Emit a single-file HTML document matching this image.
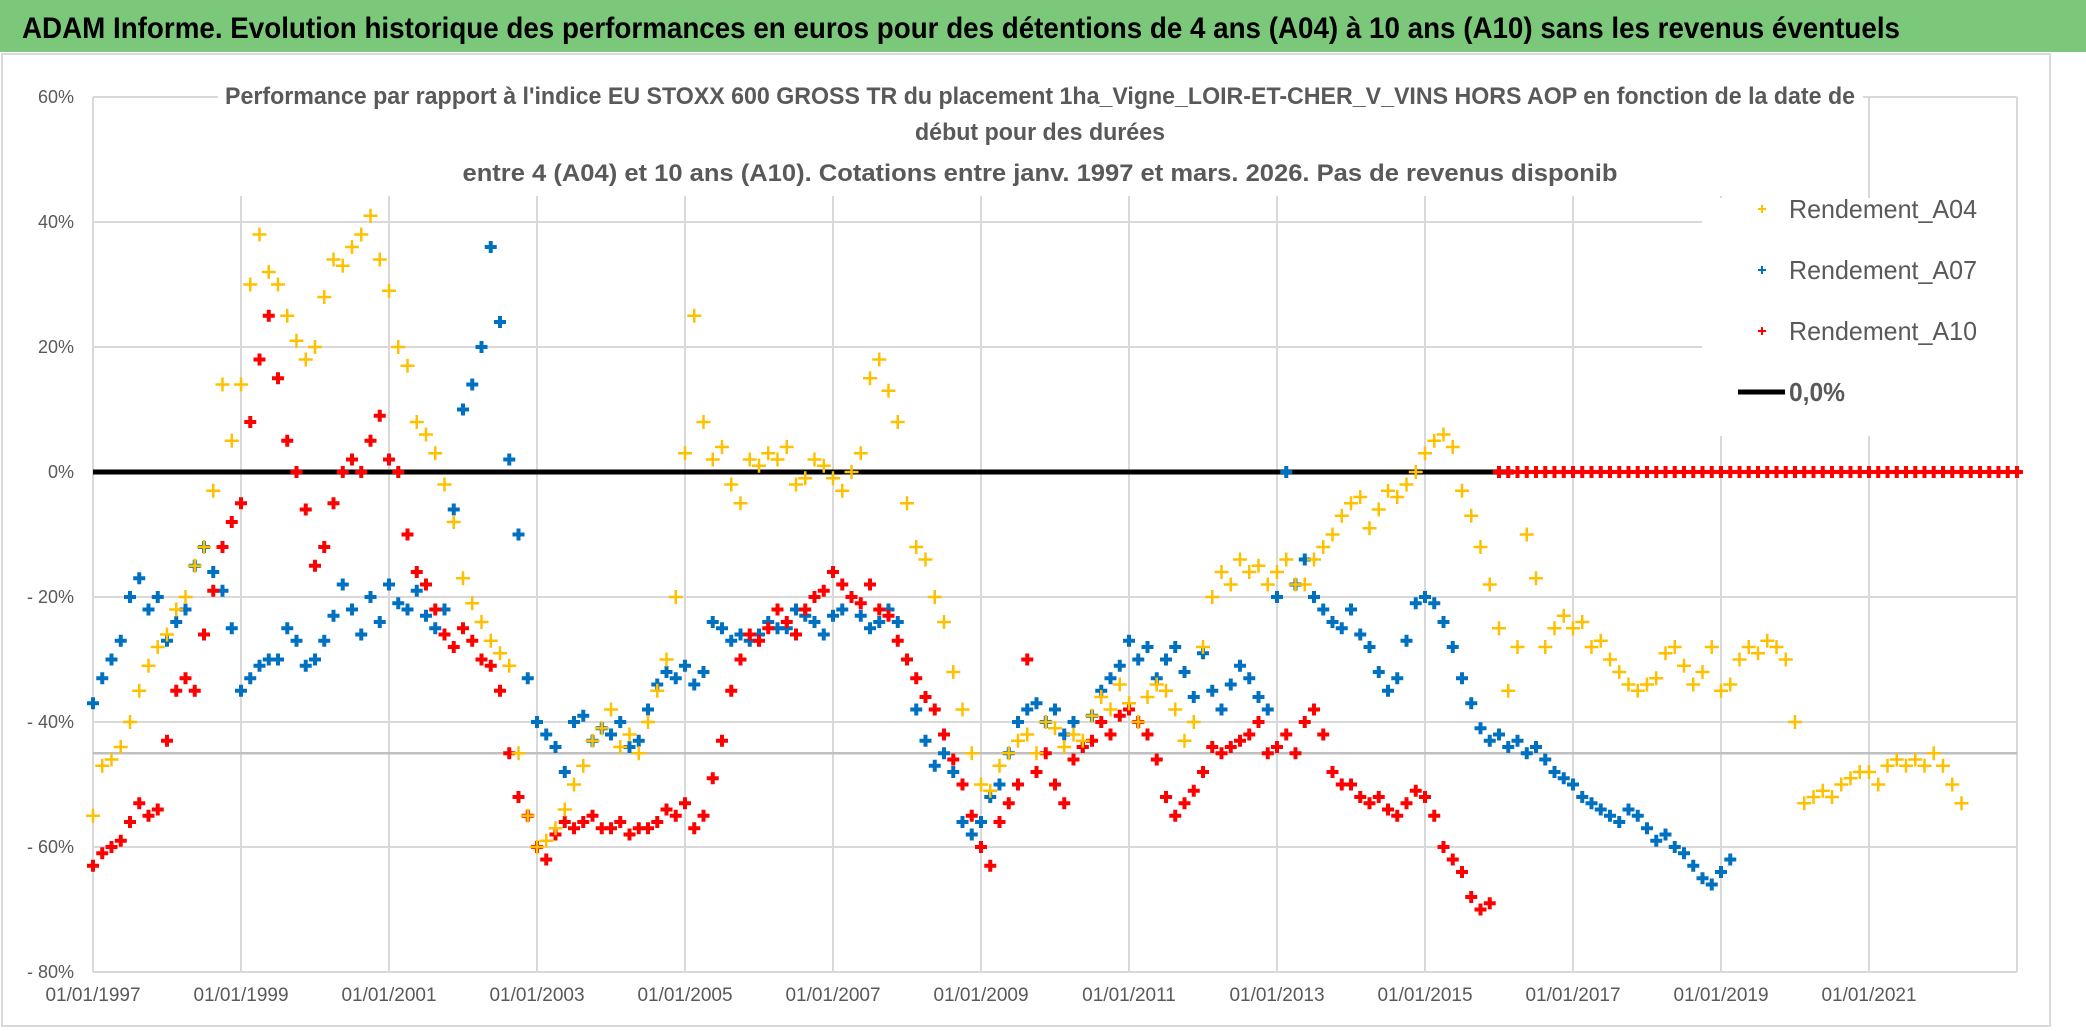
<!DOCTYPE html>
<html><head><meta charset="utf-8">
<style>
html,body{margin:0;padding:0;background:#fff;}
svg{display:block;font-family:"Liberation Sans Narrow","Liberation Sans",sans-serif;}
</style></head>
<body>
<svg id="chart" width="2086" height="1031" viewBox="0 0 2086 1031" xmlns="http://www.w3.org/2000/svg">
<rect x="0" y="0" width="2086" height="1031" fill="#fff"/>
<rect x="0" y="0" width="2086" height="52" fill="#7cc87a"/>
<text x="22" y="38" font-size="30" font-weight="bold" fill="#000" textLength="1878" lengthAdjust="spacingAndGlyphs">ADAM Informe. Evolution historique des performances en euros pour des détentions de 4 ans (A04) à 10 ans (A10) sans les revenus éventuels</text>
<rect x="2" y="54" width="2048" height="972" fill="none" stroke="#d9d9d9" stroke-width="2"/>
<g id="grid"></g>
<g id="marks"></g>
<g id="overlay"></g>
</svg>
<script>
const startYear = 1997;
const stepYear = 0.125;
const xTickLabels = ["01/01/1997","01/01/1999","01/01/2001","01/01/2003","01/01/2005","01/01/2007","01/01/2009","01/01/2011","01/01/2013","01/01/2015","01/01/2017","01/01/2019","01/01/2021"];
const xTickYears = [1997,1999,2001,2003,2005,2007,2009,2011,2013,2015,2017,2019,2021,2023];
const yTicks = [60,40,20,0,-20,-40,-60,-80];
const yTickLabels = ["60%","40%","20%","0%","- 20%","- 40%","- 60%","- 80%"];
const refLineValue = -45;
const zeroLineEnd = 2016.2;
const a04Values = [
-55,-47,-46,-44,-40,-35,-31,-28,
-26,-22,-20,-15,-12,-3,14,5,
14,30,38,32,30,25,21,18,
20,28,34,33,36,38,41,34,
29,20,17,8,6,3,-2,-8,
-17,-21,-24,-27,-29,-31,-45,-55,
-60,-59,-57,-54,-50,-47,-43,-41,
-38,-44,-42,-45,-40,-35,-30,-20,
3,25,8,2,4,-2,-5,2,
1,3,2,4,-2,-1,2,1,
-1,-3,0,3,15,18,13,8,
-5,-12,-14,-20,-24,-32,-38,-45,
-50,-51,-47,-45,-43,-42,-45,-40,
-41,-44,-42,-43,-39,-36,-38,-34,
-37,-40,-36,-34,-35,-38,-43,-40,
-28,-20,-16,-18,-14,-16,-15,-18,
-16,-14,-18,-18,-14,-12,-10,-7,
-5,-4,-9,-6,-3,-4,-2,0,
3,5,6,4,-3,-7,-12,-18,
-25,-35,-28,-10,-17,-28,-25,-23,
-25,-24,-28,-27,-30,-32,-34,-35,
-34,-33,-29,-28,-31,-34,-32,-28,
-35,-34,-30,-28,-29,-27,-28,-30,
-40,-53,-52,-51,-52,-50,-49,-48,
-48,-50,-47,-46,-47,-46,-47,-45,
-47,-50,-53];
const a07Values = [
-37,-33,-30,-27,-20,-17,-22,-20,
-27,-24,-22,-15,-12,-16,-19,-25,
-35,-33,-31,-30,-30,-25,-27,-31,
-30,-27,-23,-18,-22,-26,-20,-24,
-18,-21,-22,-19,-23,-25,-22,-6,
10,14,20,36,24,2,-10,-33,
-40,-42,-44,-48,-40,-39,-43,-41,
-42,-40,-44,-43,-38,-34,-32,-33,
-31,-34,-32,-24,-25,-27,-26,-27,
-26,-24,-25,-25,-22,-23,-24,-26,
-23,-22,-20,-23,-25,-24,-22,-24,
-30,-38,-43,-47,-45,-48,-56,-58,
-56,-52,-50,-45,-40,-38,-37,-40,
-38,-42,-40,-44,-39,-35,-33,-31,
-27,-30,-28,-33,-30,-28,-32,-36,
-29,-35,-38,-34,-31,-33,-36,-38,
-20,0,-18,-14,-20,-22,-24,-25,
-22,-26,-28,-32,-35,-33,-27,-21,
-20,-21,-24,-28,-33,-37,-41,-43,
-42,-44,-43,-45,-44,-46,-48,-49,
-50,-52,-53,-54,-55,-56,-54,-55,
-57,-59,-58,-60,-61,-63,-65,-66,
-64,-62];
const a10Values = [
-63,-61,-60,-59,-56,-53,-55,-54,
-43,-35,-33,-35,-26,-19,-12,-8,
-5,8,18,25,15,5,0,-6,
-15,-12,-5,0,2,0,5,9,
2,0,-10,-16,-18,-22,-26,-28,
-25,-27,-30,-31,-35,-45,-52,-55,
-60,-62,-58,-56,-57,-56,-55,-57,
-57,-56,-58,-57,-57,-56,-54,-55,
-53,-57,-55,-49,-43,-35,-30,-26,
-27,-25,-22,-24,-26,-22,-20,-19,
-16,-18,-20,-21,-18,-22,-23,-27,
-30,-33,-36,-38,-42,-46,-50,-55,
-60,-63,-56,-53,-50,-30,-48,-45,
-50,-53,-46,-44,-43,-40,-42,-39,
-38,-40,-42,-46,-52,-55,-53,-51,
-48,-44,-45,-44,-43,-42,-40,-45,
-44,-42,-45,-40,-38,-42,-48,-50,
-50,-52,-53,-52,-54,-55,-53,-51,
-52,-55,-60,-62,-64,-68,-70,-69,
0,0,0,0,0,0,0,0,
0,0,0,0,0,0,0,0,
0,0,0,0,0,0,0,0,
0,0,0,0,0,0,0,0,
0,0,0,0,0,0,0,0,
0,0,0,0,0,0,0,0,
0,0,0,0,0,0,0,0,
0];

const NS = "http://www.w3.org/2000/svg";
const X0 = 93, PX_PER_YEAR = 74, Y0 = 97, PX_PER_PCT = 125/20;
function xs(year){ return X0 + (year - startYear) * PX_PER_YEAR; }
function ys(v){ return Y0 + (60 - v) * PX_PER_PCT; }
function mk(tag, attrs, parent){
  const e = document.createElementNS(NS, tag);
  for (const k in attrs) e.setAttribute(k, attrs[k]);
  parent.appendChild(e);
  return e;
}
const grid = document.getElementById('grid');
const marks = document.getElementById('marks');
const overlay = document.getElementById('overlay');
const plotRight = xs(xTickYears[xTickYears.length-1]);

yTicks.forEach((v, i) => {
  const l = mk('line', {x1: X0, x2: plotRight, y1: ys(v), y2: ys(v), stroke: '#d9d9d9', 'stroke-width': 2}, grid);
  
  
  const t = mk('text', {x: 74, y: ys(v) + 6, 'text-anchor': 'end', 'font-size': 18, fill: '#595959'}, grid);
  t.textContent = yTickLabels[i];
  
  
});
xTickYears.forEach((yr, i) => {
  const l = mk('line', {x1: xs(yr), x2: xs(yr), y1: Y0, y2: ys(-80), stroke: '#d9d9d9', 'stroke-width': 2}, grid);
  
  
  if (i < xTickLabels.length) {
    const t = mk('text', {x: xs(yr), y: 1001, 'text-anchor': 'middle', 'font-size': 19, fill: '#595959'}, grid);
    t.textContent = xTickLabels[i];
    
    
  }
});
const ref = mk('line', {x1: X0, x2: plotRight, y1: ys(refLineValue), y2: ys(refLineValue), stroke: '#bfbfbf', 'stroke-width': 2.5}, grid);



const zl = mk('line', {x1: X0, x2: xs(zeroLineEnd), y1: ys(0), y2: ys(0), stroke: '#000', 'stroke-width': 5}, marks);



function drawSeries(values, color, sw, size, name){
  const g = mk('g', {stroke: color, 'stroke-width': sw}, marks);
  
  
  values.forEach((v, i) => {
    const cx = xs(startYear + i * stepYear), cy = ys(v);
    const p = mk('path', {d: `M${cx-size},${cy}H${cx+size}M${cx},${cy-size}V${cy+size}`}, g);
    
    
  });
}
drawSeries(a07Values, '#0070c0', 4, 6, 'series-a07');
drawSeries(a10Values, '#ff0000', 4, 6, 'series-a10');
drawSeries(a04Values, '#ffc000', 2.5, 7, 'series-a04');

mk('rect', {x: 218, y: 58, width: 1645, height: 138, fill: '#fff'}, overlay);
const titleLines = [
  ["Performance par rapport à l'indice EU STOXX 600 GROSS TR  du placement 1ha_Vigne_LOIR-ET-CHER_V_VINS HORS AOP en fonction de la date de", 1040, 104, 1630],
  ["début pour des durées", 1040, 140, 250],
  ["entre 4 (A04) et 10 ans (A10). Cotations entre janv. 1997 et mars. 2026. Pas de revenus disponib", 1040, 181, 1155]
];
titleLines.forEach(tl => {
  const t = mk('text', {x: tl[1], y: tl[2], 'text-anchor': 'middle', 'font-size': 24, 'font-weight': 'bold', fill: '#595959', textLength: tl[3], lengthAdjust: 'spacingAndGlyphs'}, overlay);
  t.textContent = tl[0];
  
  
});

const lg = mk('g', {}, overlay);


mk('rect', {x: 1702, y: 198, width: 314, height: 238, fill: '#fff'}, lg);
const legendItems = [["Rendement_A04", '#ffc000', 209], ["Rendement_A07", '#0070c0', 270], ["Rendement_A10", '#ff0000', 331]];
legendItems.forEach(it => {
  const cx = 1762, cy = it[2];
  const p = mk('path', {d: `M${cx-4},${cy}H${cx+4}M${cx},${cy-4}V${cy+4}`, stroke: it[1], 'stroke-width': 2}, lg);
  
  
  const t = mk('text', {x: 1789, y: cy + 9, 'font-size': 26, fill: '#595959', textLength: 188, lengthAdjust: 'spacingAndGlyphs'}, lg);
  t.textContent = it[0];
  
  
});
const ll = mk('line', {x1: 1738, x2: 1785, y1: 392, y2: 392, stroke: '#000', 'stroke-width': 5}, lg);


const lt = mk('text', {x: 1789, y: 401, 'font-size': 26, 'font-weight': 'bold', fill: '#595959', textLength: 56, lengthAdjust: 'spacingAndGlyphs'}, lg);
lt.textContent = "0,0%";


</script>
</body></html>
